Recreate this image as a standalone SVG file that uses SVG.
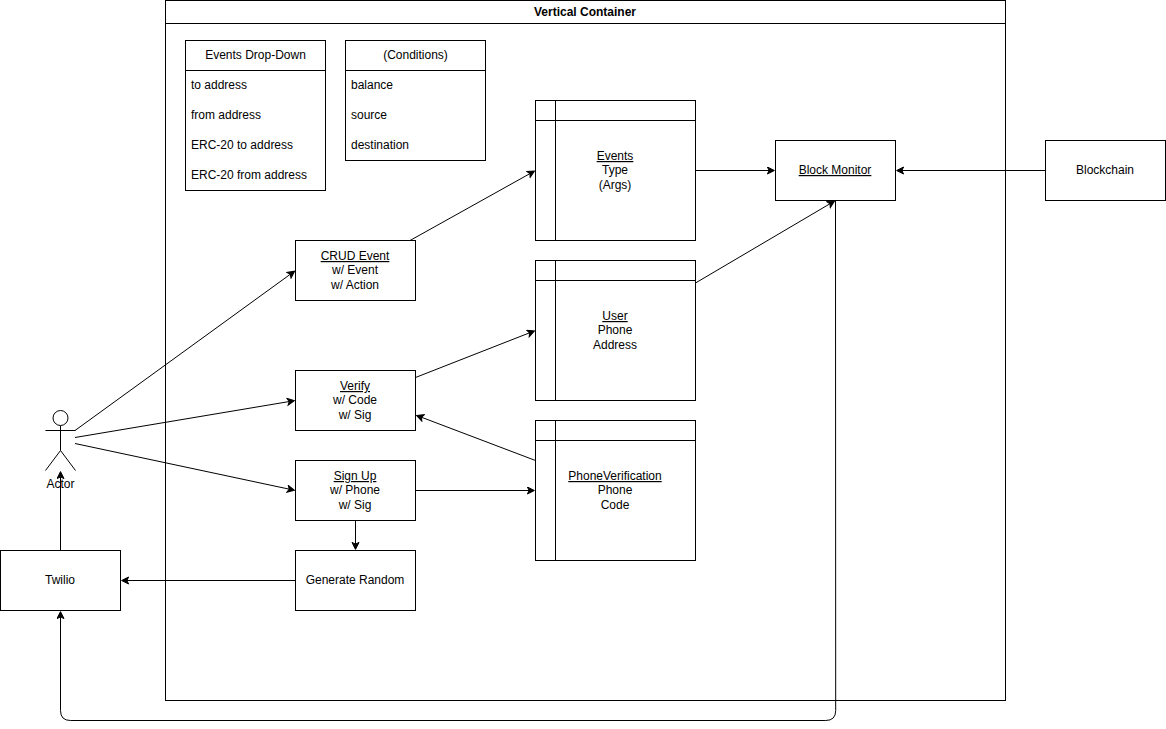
<svg xmlns="http://www.w3.org/2000/svg" width="1166" height="729" viewBox="0 0 1166 729">
<style>
.s{fill:#fff;stroke:#000;stroke-width:1}
.n{fill:none;stroke:#000;stroke-width:1}
.c{fill:none;stroke:#000;stroke-width:1;marker-end:url(#a)}
text{font-family:"Liberation Sans",Arial,sans-serif;font-size:12px;fill:#000}
.m{text-anchor:middle}
.u{text-decoration:underline}
.b{font-weight:bold}
</style>
<defs>
<marker id="a" markerUnits="userSpaceOnUse" markerWidth="10" markerHeight="10" refX="2.75" refY="4" orient="auto">
<path d="M8 4L1 7.500L2.750 4L1 0.500Z" fill="#000" stroke="#000" stroke-width="1"/>
</marker>
</defs>
<rect width="1166" height="729" fill="#fff"/>
<g id="container">
<rect x="165.500" y="0.500" width="840" height="700" class="s"/>
<path d="M165.500 23.500H1005.500" class="n"/>
<text x="585" y="16" class="m b">Vertical Container</text>
</g>
<g id="events-dropdown">
<rect x="185.500" y="40.500" width="140" height="150" class="s"/>
<path d="M185.500 70.500H325.500" class="n"/>
<text x="255.500" y="59" class="m">Events Drop-Down</text>
<text x="191" y="89">to address</text>
<text x="191" y="119">from address</text>
<text x="191" y="149">ERC-20 to address</text>
<text x="191" y="179">ERC-20 from address</text>
</g>
<g id="conditions">
<rect x="345.500" y="40.500" width="140" height="120" class="s"/>
<path d="M345.500 70.500H485.500" class="n"/>
<text x="415.500" y="59" class="m">(Conditions)</text>
<text x="351" y="89">balance</text>
<text x="351" y="119">source</text>
<text x="351" y="149">destination</text>
</g>
<g id="events">
<rect x="535.500" y="100.500" width="160" height="140" class="s"/>
<path d="M535.500 120.500H695.500M555.500 100.500V240.500" class="n"/>
<text x="615" y="160" class="m u">Events</text>
<text x="615" y="174" class="m">Type</text>
<text x="615" y="189" class="m">(Args)</text>
</g>
<g id="user">
<rect x="535.500" y="260.500" width="160" height="140" class="s"/>
<path d="M535.500 280.500H695.500M555.500 260.500V400.500" class="n"/>
<text x="615" y="320" class="m u">User</text>
<text x="615" y="334" class="m">Phone</text>
<text x="615" y="349" class="m">Address</text>
</g>
<g id="phone-verification">
<rect x="535.500" y="420.500" width="160" height="140" class="s"/>
<path d="M535.500 440.500H695.500M555.500 420.500V560.500" class="n"/>
<text x="615" y="480" class="m u">PhoneVerification</text>
<text x="615" y="494" class="m">Phone</text>
<text x="615" y="509" class="m">Code</text>
</g>
<g id="block-monitor">
<rect x="775.500" y="140.500" width="120" height="60" class="s"/>
<text x="835" y="174" class="m u">Block Monitor</text>
</g>
<g id="blockchain">
<rect x="1045.500" y="140.500" width="120" height="60" class="s"/>
<text x="1105" y="174" class="m">Blockchain</text>
</g>
<g id="crud-event">
<rect x="295.500" y="240.500" width="120" height="60" class="s"/>
<text x="355" y="260" class="m u">CRUD Event</text>
<text x="355" y="274" class="m">w/ Event</text>
<text x="355" y="289" class="m">w/ Action</text>
</g>
<g id="verify">
<rect x="295.500" y="370.500" width="120" height="60" class="s"/>
<text x="355" y="390" class="m u">Verify</text>
<text x="355" y="404" class="m">w/ Code</text>
<text x="355" y="419" class="m">w/ Sig</text>
</g>
<g id="sign-up">
<rect x="295.500" y="460.500" width="120" height="60" class="s"/>
<text x="355" y="480" class="m u">Sign Up</text>
<text x="355" y="494" class="m">w/ Phone</text>
<text x="355" y="509" class="m">w/ Sig</text>
</g>
<g id="generate-random">
<rect x="295.500" y="550.500" width="120" height="60" class="s"/>
<text x="355" y="584" class="m">Generate Random</text>
</g>
<g id="twilio">
<rect x="0.500" y="550.500" width="120" height="60" class="s"/>
<text x="60" y="584" class="m">Twilio</text>
</g>
<g id="actor">
<circle cx="60.500" cy="418" r="7.500" class="s"/>
<path d="M60.500 425.500V450.500M45.500 430.500H75.500M60.500 450.500L45.500 470.500M60.500 450.500L75.500 470.500" class="n"/>
<text x="60.500" y="488" class="m">Actor</text>
</g>
<g id="connectors">
<path d="M75 430.500L290.350 274.240" class="c"/>
<path d="M75 437.500L289.220 401.550" class="c"/>
<path d="M75 443.500L289.270 489.170" class="c"/>
<path d="M410 240.500L529.940 173.600" class="c"/>
<path d="M415.500 377.500L529.570 332.820" class="c"/>
<path d="M535.500 460.500L421.460 417.260" class="c"/>
<path d="M415.500 490.500H529.130" class="c"/>
<path d="M355.500 520.500V544.130" class="c"/>
<path d="M295.500 580.500H126.870" class="c"/>
<path d="M60.500 550.500V476.870" class="c"/>
<path d="M695.500 170.500H769.130" class="c"/>
<path d="M695.500 283L830.010 203.730" class="c"/>
<path d="M1045.500 170.500H901.870" class="c"/>
<path d="M835.500 200.500L835.700 710.500Q835.700 720.500 825.700 720.500H70.500Q60.500 720.500 60.500 710.500V616.870" class="c"/>
</g>
</svg>
